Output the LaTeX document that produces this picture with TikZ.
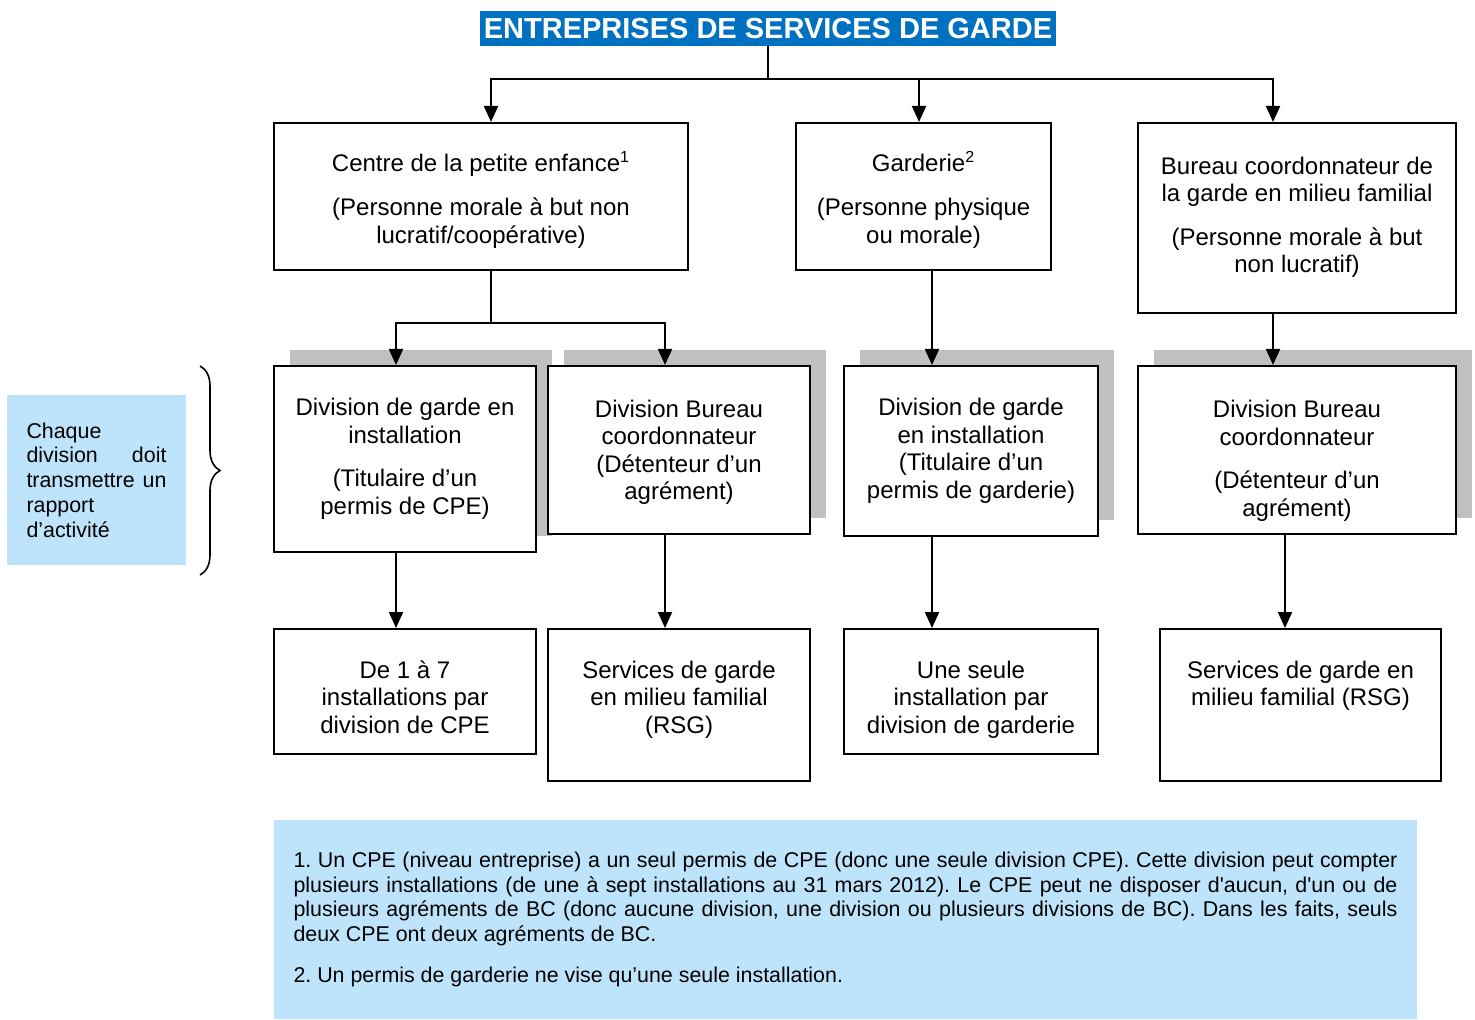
\documentclass[tikz,border=0pt]{standalone}
\usepackage{fontspec}
\setmainfont{Liberation Sans}
\usepackage{tikz}
\usetikzlibrary{arrows.meta}
\usetikzlibrary{shadows}
\usetikzlibrary{decorations.pathreplacing}

\definecolor{titleblue}{RGB}{0,112,192}
\definecolor{notebg}{RGB}{190,228,252}
\definecolor{shadowgray}{RGB}{192,192,192}

\frenchspacing

% text hung from the top of a leaf box
\newcommand{\leaf}[3]{\parbox[c][#1][t]{#2}{\centering\vspace*{15pt}\strut #3}}

\tikzset{
    box/.style={draw, line width=1pt, align=center, font=\fontsize{12}{13.75}\selectfont},
    divbox/.style={box, fill=white, drop shadow={shadow xshift=8pt, shadow yshift=8pt, fill=shadowgray, opacity=1}},
    leafbox/.style={draw, line width=1pt, inner sep=0pt, font=\fontsize{12}{13.75}\selectfont},
    notebox/.style={fill=notebg, inner sep=0pt, font=\fontsize{10.7}{12.2}\selectfont},
    wire/.style={line width=1pt},
    link/.style={line width=1pt, -{Triangle[length=8pt, width=7pt]}},
}

\begin{document}
\begin{tikzpicture}[x=0.5pt, y=-0.5pt]
        \useasboundingbox (0,0) rectangle (1475,1020);

        \node[fill=titleblue, text=white, inner sep=0pt, minimum width=288pt, minimum height=17.5pt,
              font=\fontsize{14.5}{16}\selectfont\bfseries] (title) at (768,28.5) {ENTREPRISES DE SERVICES DE GARDE};

        % entreprises
        \node[box, minimum width=207pt, minimum height=73.5pt] (cpe) at (481,196.5)
            {\rule{0pt}{13pt}Centre de la petite enfance\textsuperscript{1}\\[8.5pt] (Personne morale à but non\\ lucratif/coopérative)};
        \node[box, minimum width=127.5pt, minimum height=73.5pt] (gard) at (923.5,196.5)
            {\rule{0pt}{13pt}Garderie\textsuperscript{2}\\[8.5pt] (Personne physique\\ ou morale)};
        \node[box, minimum width=159pt, minimum height=95pt] (bc) at (1297,218)
            {Bureau coordonnateur de\\ la garde en milieu familial\\[8pt] (Personne morale à but\\ non lucratif)\rule[-3pt]{0pt}{3pt}};

        % divisions
        \node[divbox, minimum width=131pt, minimum height=93pt] (div1) at (405,459)
            {Division de garde en\\ installation\\[8pt] (Titulaire d’un\\ permis de CPE)};
        \node[divbox, minimum width=131pt, minimum height=84pt] (div2) at (679,450)
            {\rule{0pt}{11pt}Division Bureau\\ coordonnateur\\ (Détenteur d’un\\ agrément)};
        \node[divbox, minimum width=127pt, minimum height=85pt] (div3) at (971,451)
            {Division de garde\\ en installation\\ (Titulaire d’un\\ permis de garderie)};
        \node[divbox, minimum width=159pt, minimum height=84pt] (div4) at (1297,450)
            {\rule{0pt}{19.5pt}Division Bureau\\ coordonnateur\\[8pt] (Détenteur d’un\\ agrément)};

        % installations
        \node[leafbox] (inst1) at (405,691.5) {\leaf{62.5pt}{131pt}{De 1 à 7\\ installations par\\ division de CPE}};
        \node[leafbox] (rsg2) at (679,705) {\leaf{76pt}{131pt}{Services de garde\\ en milieu familial\\ (RSG)}};
        \node[leafbox] (inst3) at (971,691.5) {\leaf{62.5pt}{127pt}{Une seule\\ installation par\\ division de garderie}};
        \node[leafbox] (rsg4) at (1300.5,705) {\leaf{76pt}{140.5pt}{Services de garde en\\ milieu familial (RSG)}};

        \node[notebox, minimum width=89.5pt, minimum height=85pt, text width=70pt, align=left,
              font=\fontsize{10.7}{12.4}\selectfont] (rapport) at (96.5,480)
            {Chaque\\ division\hfill doit\\ transmettre\hfill un\\ rapport\\ d’activité};

        \node[notebox, minimum width=571.5pt, minimum height=99.5pt, text width=552pt, align=justify] (notes) at (845.5,919.5)
            {1. Un CPE (niveau entreprise) a un seul permis de CPE (donc une seule division CPE). Cette division peut compter\linebreak
             plusieurs installations (de une à sept installations au 31 mars 2012). Le CPE peut ne disposer d\textquotesingle aucun, d\textquotesingle un ou de\linebreak
             plusieurs agréments de BC (donc aucune division, une division ou plusieurs divisions de BC). Dans les faits, seuls\linebreak
             deux CPE ont deux agréments de BC.\par\vspace{8.3pt}
             2. Un permis de garderie ne vise qu’une seule installation.};

        \coordinate (j0) at (768,79);
        \coordinate (j1) at (491,323);
        \coordinate (bt) at (200,366);
        \coordinate (bb) at (200,575);

        \draw[wire] (title.south) -- (j0);
        \draw[link] (j0) -| ([xshift=5pt]cpe.north);
        \draw[link] (j0) -| ([xshift=-2.25pt]gard.north);
        \draw[link] (j0) -| ([xshift=-12pt]bc.north);

        \draw[wire] ([xshift=5pt]cpe.south) -- (j1);
        \draw[link] (j1) -| ([xshift=-4.5pt]div1.north);
        \draw[link] (j1) -| ([xshift=-7pt]div2.north);
        \draw[link] ([xshift=4.25pt]gard.south) -- ([xshift=4.25pt]gard.south |- div3.north);
        \draw[link] ([xshift=-12pt]bc.south) -- ([xshift=-12pt]bc.south |- div4.north);

        \draw[link] ([xshift=-4.5pt]div1.south) -- ([xshift=-4.5pt]div1.south |- inst1.north);
        \draw[link] ([xshift=-7pt]div2.south) -- ([xshift=-7pt]div2.south |- rsg2.north);
        \draw[link] ([xshift=-19.5pt]div3.south) -- ([xshift=-19.5pt]div3.south |- inst3.north);
        \draw[link] ([xshift=-6pt]div4.south) -- ([xshift=-6pt]div4.south |- rsg4.north);

        \draw[decorate, decoration={brace, amplitude=10pt}, line width=0.8pt] (bt) -- (bb);
\end{tikzpicture}
\end{document}
